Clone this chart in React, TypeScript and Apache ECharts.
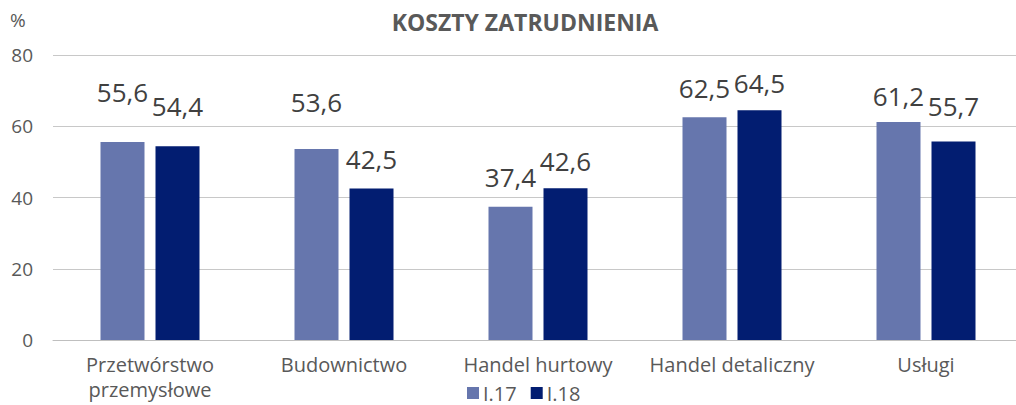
import React, { useEffect, useRef } from "react";
import * as echarts from "echarts";

const categories = ["Przetwórstwo\nprzemysłowe", "Budownictwo", "Handel hurtowy", "Handel detaliczny", "Usługi"];
const seriesNames = ["I.17", "I.18"];
const valuesI17 = [55.6, 53.6, 37.4, 62.5, 61.2];
const valuesI18 = [54.4, 42.5, 42.6, 64.5, 55.7];
const yTicks = [0, 20, 40, 60, 80];

// label lift above bar tops (styling, mimics original manual placement)
const liftI17 = [35, 32, 15, 14, 11];
const liftI18 = [25, 15, 12, 12, 21];

const FONT = "'Open Sans', 'Noto Sans', sans-serif";
const LIGHT = "#6676AD";
const DARK = "#021D71";

export default function App() {
  const ref = useRef<HTMLDivElement>(null);
  useEffect(() => {
    const chart = echarts.init(ref.current!, null, { renderer: "svg" });
    const mk = (vals: number[], lifts: number[]) =>
      vals.map((v, i) => ({
        value: v,
        label: { distance: lifts[i] },
      }));
    const labelCfg = {
      show: true,
      position: "top",
      fontFamily: FONT,
      fontSize: 26,
      lineHeight: 30,
      color: "#404040",
      formatter: (p: any) => String(p.value).replace(".", ","),
    };
    chart.setOption({
      animation: false,
      textStyle: { fontFamily: FONT },
      title: {
        text: "KOSZTY ZATRUDNIENIA",
        left: 520,
        top: 5,
        textAlign: "center",
        textStyle: { fontFamily: FONT, fontSize: 23, fontWeight: "bold", color: "#595959" },
      },
      graphic: [
        {
          type: "text",
          left: 10,
          top: 10,
          style: { text: "%", fontFamily: FONT, fontSize: 19, fill: "#595959" },
        },
      ],
      legend: {
        data: seriesNames,
        left: 467,
        top: 382,
        padding: 0,
        itemWidth: 12,
        itemHeight: 12,
        itemGap: 14,
        icon: "rect",
        textStyle: { fontFamily: FONT, fontSize: 20, lineHeight: 22, color: "#595959", padding: [0, 0, 0, -1] },
      },
      grid: { left: 53, right: 7, top: 55, bottom: 65, containLabel: false },
      xAxis: {
        type: "category",
        data: categories,
        axisTick: { show: false },
        axisLine: { lineStyle: { color: "#bfbfbf", width: 1 } },
        axisLabel: {
          fontFamily: FONT,
          fontSize: 20,
          color: "#595959",
          margin: 12,
          lineHeight: 25,
          interval: 0,
        },
      },
      yAxis: {
        type: "value",
        min: yTicks[0],
        max: yTicks[yTicks.length - 1],
        interval: 20,
        axisLine: { show: false },
        axisTick: { show: false },
        splitLine: { lineStyle: { color: "#c8c8c8", width: 1 } },
        axisLabel: { fontFamily: FONT, fontSize: 19, color: "#595959", margin: 20 },
      },
      series: [
        {
          name: seriesNames[0],
          type: "bar",
          data: mk(valuesI17, liftI17),
          barWidth: 44,
          barGap: "25%",
          itemStyle: { color: LIGHT },
          label: labelCfg,
        },
        {
          name: seriesNames[1],
          type: "bar",
          data: mk(valuesI18, liftI18),
          barWidth: 44,
          barGap: "25%",
          itemStyle: { color: DARK },
          label: labelCfg,
        },
      ],
    });
    return () => chart.dispose();
  }, []);
  return (
    <div
      style={{ position: "absolute", left: 0, top: 0, width: 1016, height: 405, overflow: "hidden", background: "#fff" }}
    >
      <div ref={ref} style={{ width: 1030, height: 405 }} />
    </div>
  );
}
